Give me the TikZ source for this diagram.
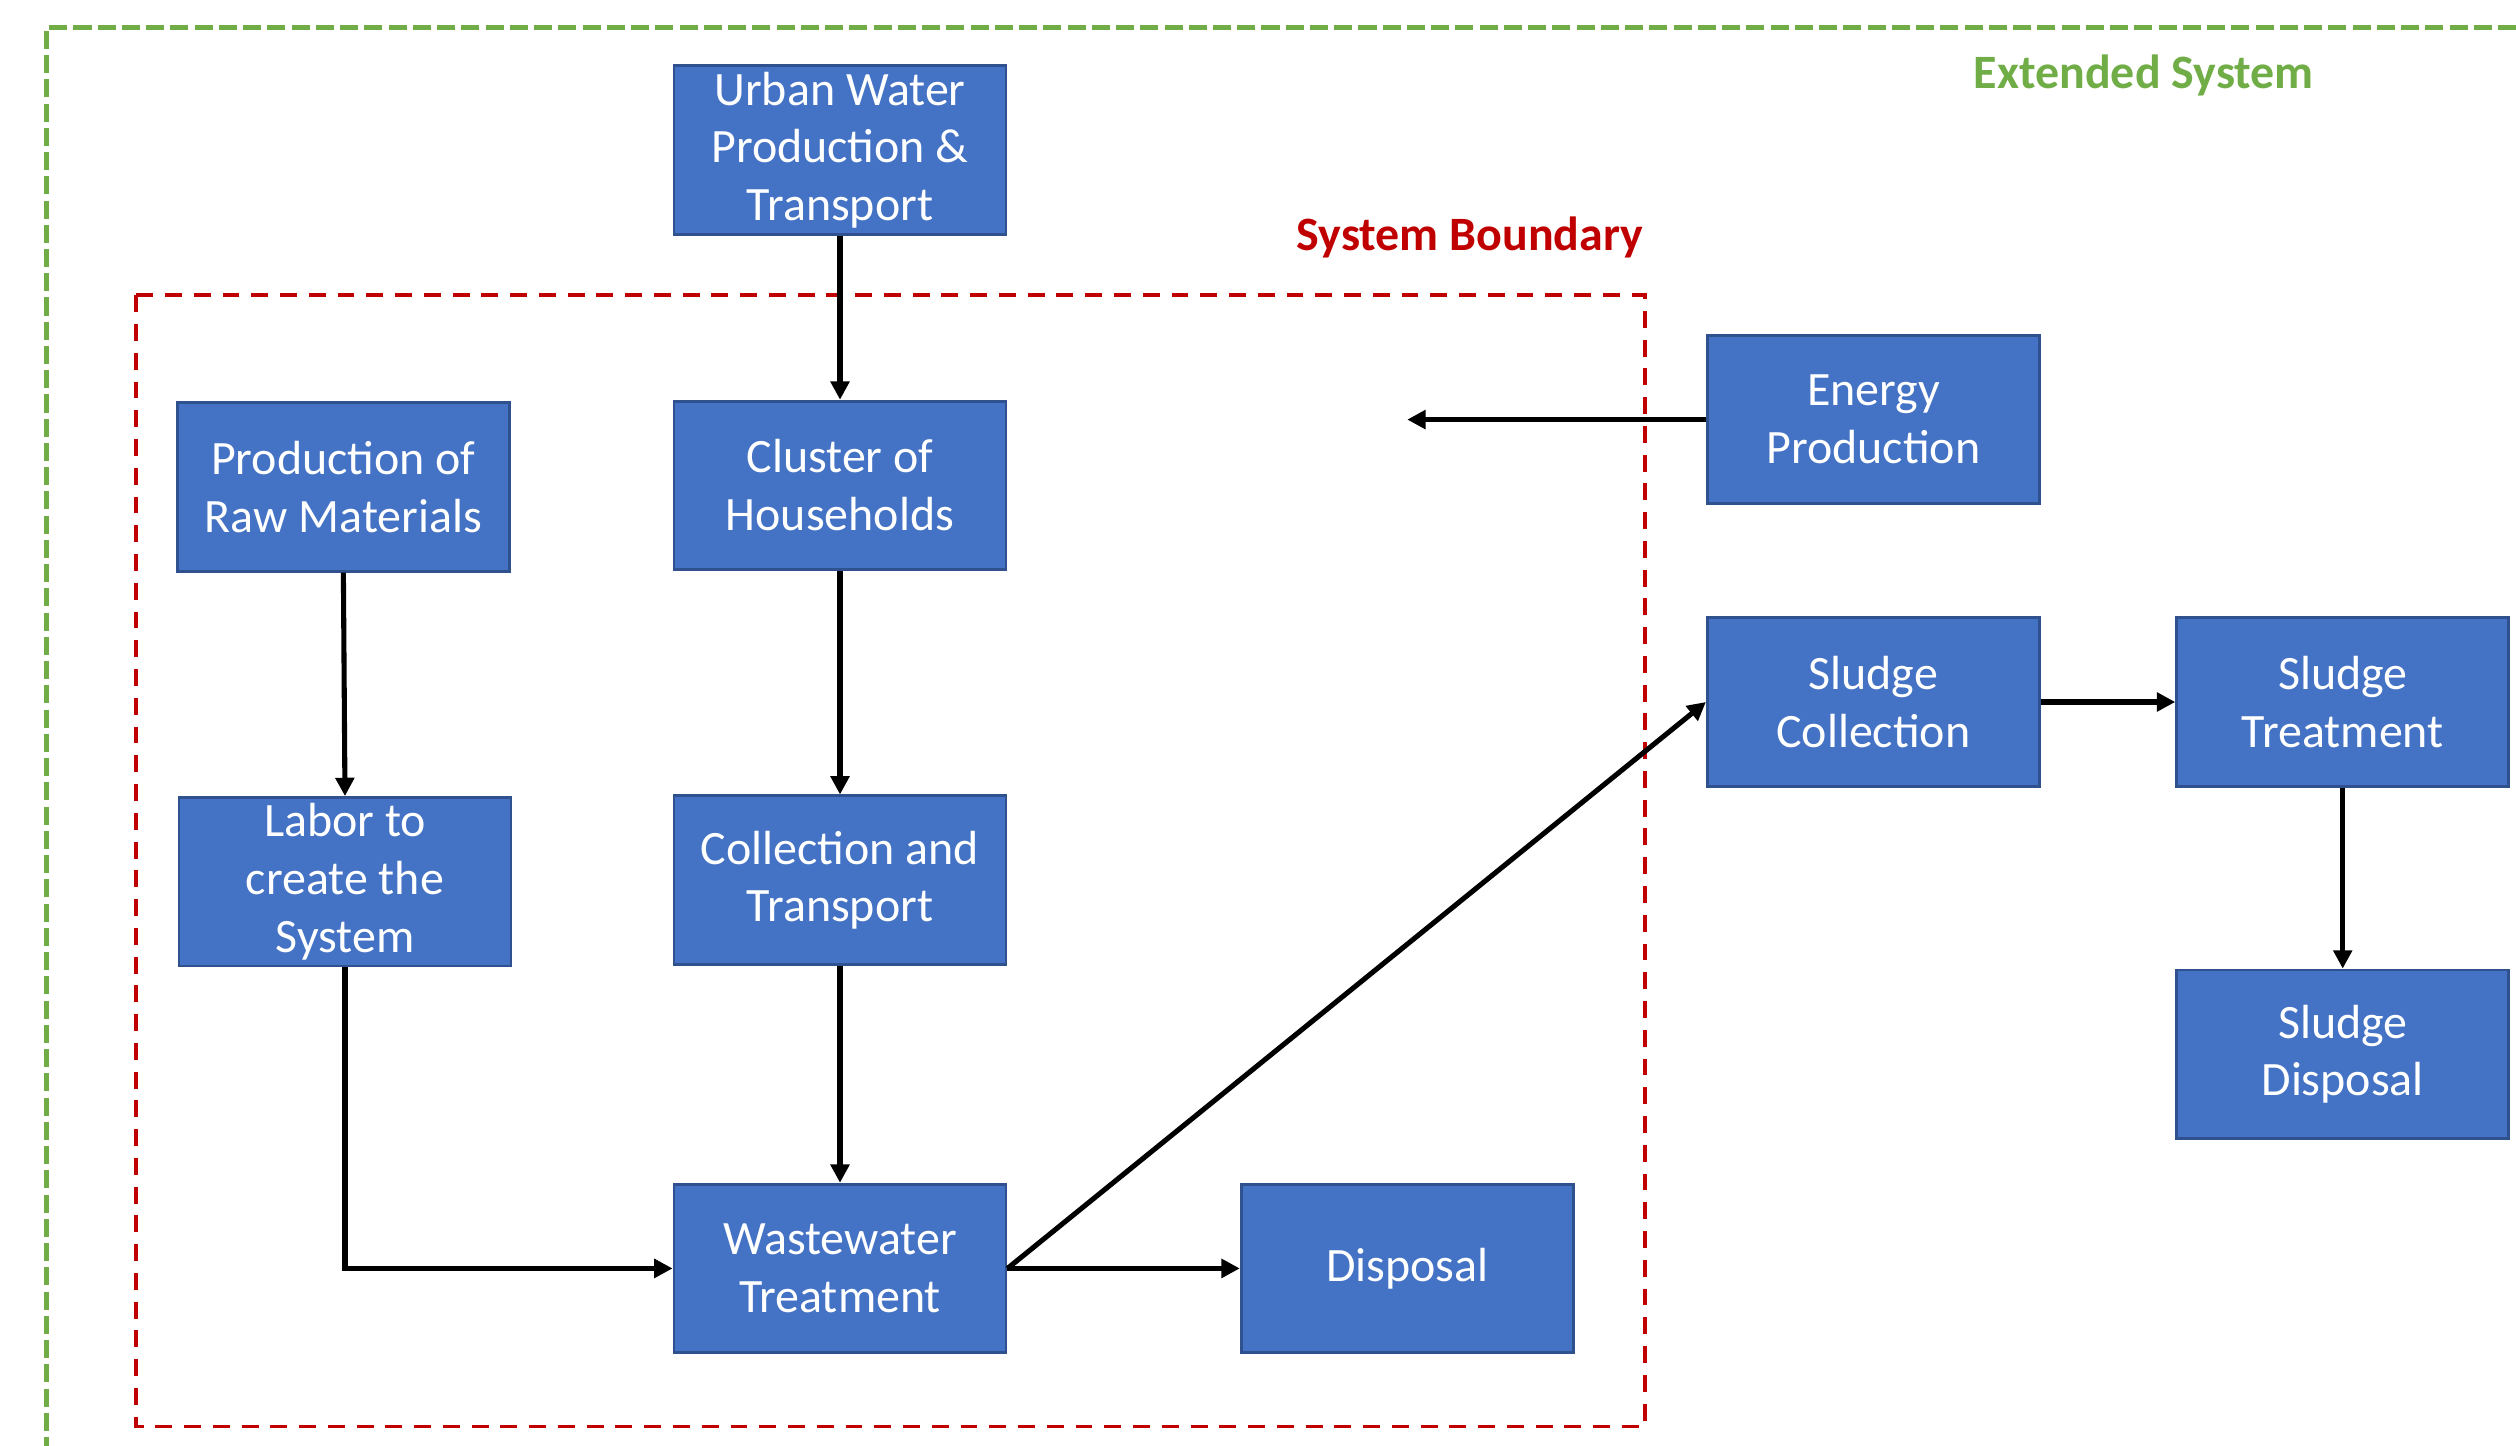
\documentclass[tikz,border=0pt]{standalone}
\usepackage{fontspec}
\setmainfont{Carlito}
\usetikzlibrary{arrows.meta,positioning}
\definecolor{boxblue}{HTML}{4472C4}
\definecolor{boxedge}{HTML}{2F528F}
\definecolor{extgreen}{HTML}{70AD47}
\definecolor{bndred}{HTML}{C00000}

\begin{document}
\begin{tikzpicture}[x=0.02cm, y=-0.02cm,
    blk/.style={draw=boxedge, line width=1pt, fill=boxblue, text=white, minimum width=4.14cm, minimum height=2.1cm, align=center, font=\fontsize{17}{20.5}\selectfont, inner sep=0pt},
    flow/.style={-{Triangle[length=6.5pt,width=6.5pt]}, line width=1.8pt},
    bnd/.style={line width=1.4pt, dash pattern=on 6pt off 4.2pt}
]
    \useasboundingbox (0,0) rectangle (1568,901);

    % boundaries
    \draw[extgreen, line width=1.9pt, dash pattern=on 6.4pt off 2.2pt] (1568,17) -- (29,17) -- (29,901);
    \draw[bnd, bndred] (85,184) rectangle (1025,889);
    \node[font=\fontsize{17}{20.5}\selectfont\bfseries, text=extgreen] (extlbl) at (1336,47) {Extended System};
    \node[font=\fontsize{17}{20.5}\selectfont\bfseries, text=bndred] (bndlbl) at (916,148) {System Boundary};

    % boxes
    \node[blk] (water) at (523.5,93.5) {Urban Water\\Production \&\\Transport};
    \node[blk] (raw) at (214,303.5) {Production of\\Raw Materials};
    \node[blk] (house) at (523.5,302.5) {Cluster of\\Households};
    \node[blk] (labor) at (215,549.5) {Labor to\\create the\\System};
    \node[blk] (coll) at (523.5,548.5) {Collection and\\Transport};
    \node[blk] (wwt) at (523.5,790.5) {Wastewater\\Treatment};
    \node[blk] (disp) at (877,790.5) {Disposal};
    \node[blk] (energy) at (1167.5,261.5) {Energy\\Production};
    \node[blk] (scoll) at (1167.5,437.5) {Sludge\\Collection};
    \node[blk] (streat) at (1460,437.5) {Sludge\\Treatment};
    \node[blk] (sdisp) at (1460,657) {Sludge\\Disposal};
    \coordinate (eend) at (877,261.5);

    % flows
    \draw[flow] (water.south) -- (house.north);
    \draw[flow] (raw.south) -- (labor.north);
    \draw[flow] (house.south) -- (coll.north);
    \draw[flow] (coll.south) -- (wwt.north);
    \draw[flow] (labor.south) |- (wwt.west);
    \draw[flow] (wwt.east) -- (disp.west);
    \draw[flow] (wwt.east) -- (scoll.west);
    \draw[flow] (energy.west) -- (eend);
    \draw[flow] (scoll.east) -- (streat.west);
    \draw[flow] (streat.south) -- (sdisp.north);
\end{tikzpicture}
\end{document}
